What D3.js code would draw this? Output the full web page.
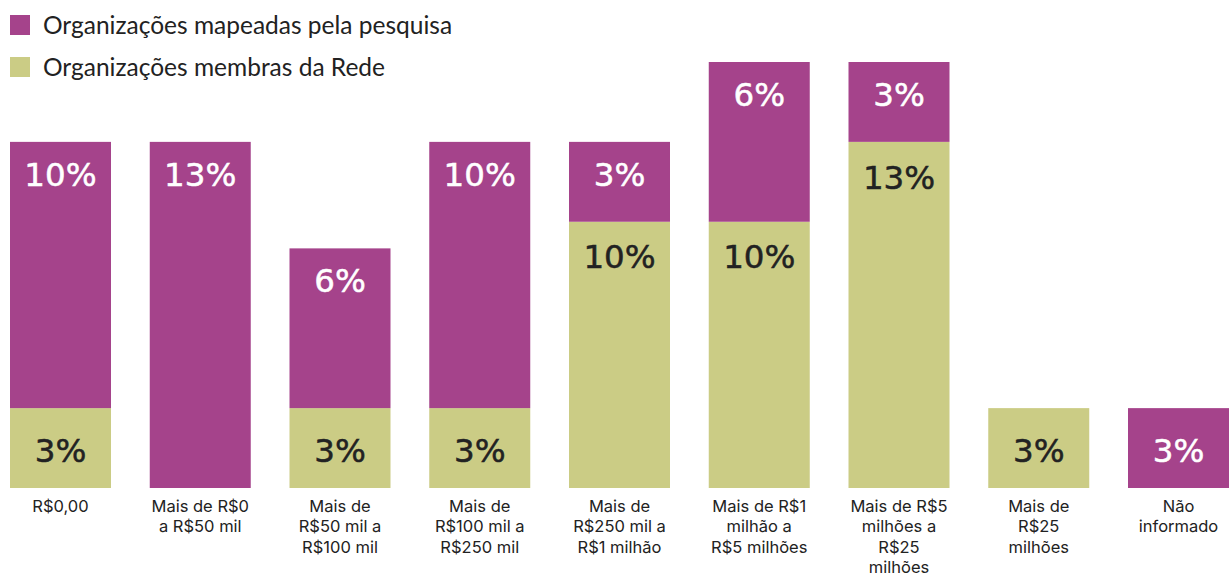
<!DOCTYPE html>
<html>
<head>
<meta charset="utf-8">
<script src="https://cdn.jsdelivr.net/npm/d3@7/dist/d3.min.js"></script>
<style>
  html, body { margin: 0; padding: 0; background: #fff; }
  svg { display: block; }
</style>
</head>
<body>
<svg id="chart" width="1231" height="577"></svg>
<script>
// Faixas de orçamento anual (quebras de linha nos rótulos do eixo)
const categories = [
  "R$0,00",
  "Mais de R$0\na R$50 mil",
  "Mais de\nR$50 mil a\nR$100 mil",
  "Mais de\nR$100 mil a\nR$250 mil",
  "Mais de\nR$250 mil a\nR$1 milhão",
  "Mais de R$1\nmilhão a\nR$5 milhões",
  "Mais de R$5\nmilhões a\nR$25\nmilhões",
  "Mais de\nR$25\nmilhões",
  "Não\ninformado"
];

// Percentuais por série (%)
const membrasRede = [3, 0, 3, 3, 10, 10, 13, 3, 0];
const mapeadasPesquisa = [10, 13, 6, 10, 3, 6, 3, 0, 3];

const seriesNames = ["Organizações membras da Rede", "Organizações mapeadas pela pesquisa"];
const legendOrder = ["Organizações mapeadas pela pesquisa", "Organizações membras da Rede"];

const colors = {
  "Organizações mapeadas pela pesquisa": "#a5438b",
  "Organizações membras da Rede": "#cbcc85"
};
const labelColors = {
  "Organizações mapeadas pela pesquisa": "#ffffff",
  "Organizações membras da Rede": "#222222"
};

const rows = categories.map((c, i) => ({
  cat: c,
  "Organizações membras da Rede": membrasRede[i],
  "Organizações mapeadas pela pesquisa": mapeadasPesquisa[i]
}));

const stacked = d3.stack().keys(seriesNames)(rows);

const svg = d3.select("#chart");

const x = d3.scaleBand()
  .domain(categories)
  .range([10, 1229])
  .paddingInner(0.2773)
  .paddingOuter(0);

const yMax = d3.max(rows, d => d["Organizações membras da Rede"] + d["Organizações mapeadas pela pesquisa"]);
const y = d3.scaleLinear().domain([0, yMax]).range([488, 62]);

// Barras empilhadas
const layers = svg.append("g").selectAll("g")
  .data(stacked)
  .join("g")
  .attr("fill", d => colors[d.key]);

layers.selectAll("rect")
  .data(d => d.filter(p => p[1] - p[0] > 0))
  .join("rect")
  .attr("x", d => x(d.data.cat))
  .attr("y", d => y(d[1]))
  .attr("width", x.bandwidth())
  .attr("height", d => y(d[0]) - y(d[1]));

// Rótulos de valor (traço fino para dar peso médio)
const valueLabels = svg.append("g")
  .attr("font-family", "'DejaVu Sans', sans-serif")
  .attr("font-size", 32.5)
  .attr("text-anchor", "middle");

stacked.forEach(layer => {
  layer.forEach(p => {
    const v = p[1] - p[0];
    if (v <= 0) return;
    const top = y(p[1]);
    const bottom = y(p[0]);
    let cy;
    if (p[0] === 0 && bottom - top < 100) {
      cy = (top + bottom) / 2 + 2;
    } else {
      cy = top + (layer.key === "Organizações membras da Rede" ? 35 : 32);
    }
    valueLabels.append("text")
      .attr("x", x(p.data.cat) + x.bandwidth() / 2)
      .attr("y", cy)
      .attr("dy", "0.36em")
      .attr("fill", labelColors[layer.key])
      .attr("stroke", labelColors[layer.key])
      .attr("stroke-width", 0.5)
      .text(v + "%");
  });
});

// Eixo de categorias
const xAxis = svg.append("g")
  .attr("transform", "translate(0,488)")
  .call(d3.axisBottom(x).tickSize(0).tickFormat(""));
xAxis.select(".domain").remove();

xAxis.selectAll(".tick").each(function(d) {
  const t = d3.select(this).append("text")
    .attr("fill", "#222")
    .attr("font-family", "Inter, 'Noto Sans', sans-serif")
    .attr("font-size", 16.5)
    .attr("text-anchor", "middle");
  d.split("\n").forEach((line, i) => {
    t.append("tspan")
      .attr("x", 0)
      .attr("y", 23.5 + i * 20.6)
      .text(line);
  });
});

// Legenda
const legend = svg.append("g")
  .attr("font-family", "Lato, 'Open Sans', sans-serif")
  .attr("font-size", 24.5);

legendOrder.forEach((name, i) => {
  const g = legend.append("g").attr("transform", `translate(10,${15 + i * 42})`);
  g.append("rect").attr("width", 20).attr("height", 20).attr("fill", colors[name]);
  g.append("text")
    .attr("x", 33)
    .attr("y", 10)
    .attr("dy", "0.35em")
    .attr("fill", "#222")
    .text(name);
});
</script>
</body>
</html>
